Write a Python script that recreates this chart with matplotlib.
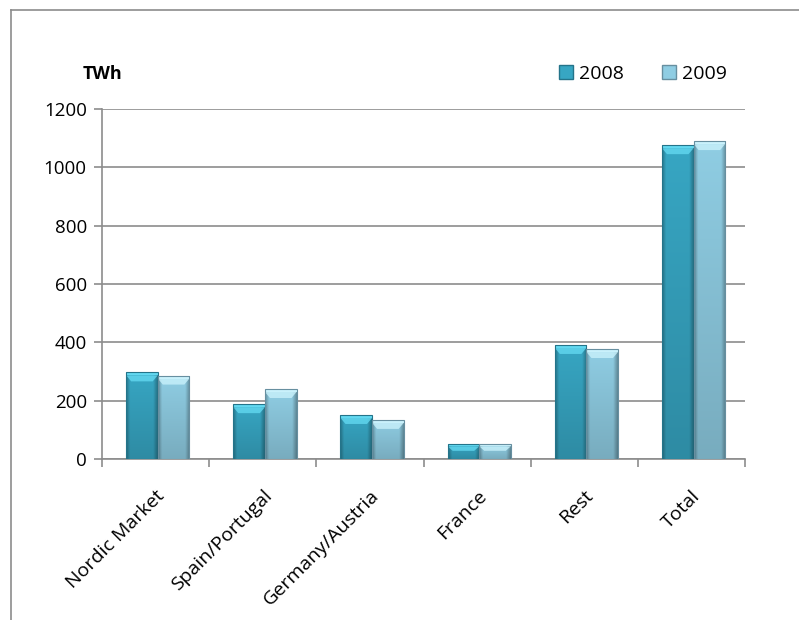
"""
Electricity generation by market, 2008 vs 2009 (TWh), Excel-style bevelled bars.
"""

import numpy as np
import matplotlib.pyplot as plt
import matplotlib.patches as patches
from matplotlib.colors import to_rgb
from matplotlib.lines import Line2D

plt.rcParams["font.family"] = ["Open Sans", "DejaVu Sans"]

CATEGORIES = ["Nordic Market", "Spain/Portugal", "Germany/Austria", "France", "Rest", "Total"]
YEARS = ["2008", "2009"]
VALUES_2008 = [297, 188, 151, 51, 391, 1076]
VALUES_2009 = [286, 240, 134, 51, 377, 1090]
Y_TICKS = [0, 200, 400, 600, 800, 1000, 1200]

# face / bevel colours per series
FACE = {"2008": "#37a6c3", "2009": "#8fcde3"}
BEVEL = {"2008": "#62d8f0", "2009": "#c9f1fb"}
EDGE = {"2008": "#24748a", "2009": "#678fa0"}


def shaded_image(face, nx=40, ny=60):
    """RGB array with darker side edges and a slight darkening towards the bottom."""
    t = np.linspace(0, 1, nx)
    horiz = np.ones_like(t)
    horiz = np.where(t < 0.12, 0.72 + 0.28 * (t / 0.12), horiz)
    horiz = np.where(t > 0.86, 1.0 - 0.30 * ((t - 0.86) / 0.14), horiz)
    vert = np.linspace(1.0, 0.84, ny)[:, None]  # row 0 is the top
    base = np.array(to_rgb(face))
    img = base[None, None, :] * (horiz[None, :] * vert)[:, :, None]
    return np.clip(img, 0, 1)


fig = plt.figure(figsize=(7.99, 6.2), dpi=100)
ax = fig.add_axes([0.1277, 0.2597, 0.8047, 0.5645])

x = np.arange(len(CATEGORIES))
bar_w = 0.295
series = {"2008": VALUES_2008, "2009": VALUES_2009}

# pixel -> data conversion used for the bevel depth
px_per_unit = 0.5645 * 620 / 1200.0

for i, year in enumerate(YEARS):
    offs = (i - 0.5) * bar_w + 0.02
    bars = ax.bar(x + offs, series[year], width=bar_w, color=FACE[year],
                  edgecolor="none", zorder=3)
    img = shaded_image(FACE[year])
    for b in bars:
        bx, bw, bh = b.get_x(), b.get_width(), b.get_height()
        im = ax.imshow(img, extent=(bx, bx + bw, 0, bh), aspect="auto",
                       interpolation="bilinear", zorder=3.1)
        im.set_clip_path(b)
        # bevelled top: light rim plus a trapezoid fading into the face
        depth = min(9 / px_per_unit, bh * 0.45)
        rim = min(3 / px_per_unit, bh * 0.15)
        inset = bw * 0.16
        ax.add_patch(patches.Rectangle((bx, bh - rim), bw, rim,
                                       facecolor=BEVEL[year], edgecolor="none", zorder=3.3))
        ax.add_patch(patches.Polygon(
            [(bx, bh - rim), (bx + bw, bh - rim), (bx + bw - inset, bh - depth),
             (bx + inset, bh - depth)],
            closed=True, facecolor=BEVEL[year], edgecolor="none", alpha=0.8, zorder=3.2))
        ax.add_patch(patches.Rectangle((bx, 0), bw, bh, facecolor="none",
                                       edgecolor=EDGE[year], linewidth=0.8, zorder=3.4))

ax.set_xlim(-0.5, len(CATEGORIES) - 0.5)
ax.set_ylim(0, 1200)
ax.set_yticks(Y_TICKS)
ax.set_yticklabels([str(v) for v in Y_TICKS])
ax.yaxis.grid(True, color="#8c8c8c", linewidth=1.2, zorder=0)
ax.set_axisbelow(True)

ax.set_xticks(x)
ax.set_xticklabels(CATEGORIES, rotation=45, ha="right", va="top",
                   rotation_mode="anchor")
ax.set_xticks(np.arange(len(CATEGORIES) + 1) - 0.5, minor=True)
ax.tick_params(axis="x", which="major", length=0, pad=20, labelsize=14)
ax.tick_params(axis="x", which="minor", length=6, color="#8c8c8c", width=1.2)
ax.tick_params(axis="y", length=6, color="#8c8c8c", width=1.2, labelsize=13.5, pad=5)

for side in ("top", "right"):
    ax.spines[side].set_visible(False)
for side in ("left", "bottom"):
    ax.spines[side].set_color("#8c8c8c")
    ax.spines[side].set_linewidth(1.2)

fig.text(83 / 799, 1 - 74 / 620, "TWh", fontsize=13, fontweight="bold",
         ha="left", va="center")

handles = [patches.Patch(facecolor=FACE[y], edgecolor=EDGE[y], label=y) for y in YEARS]
fig.legend(handles=handles, loc="center", bbox_to_anchor=(643 / 799, 1 - 74 / 620),
           ncol=2, frameon=False, fontsize=14, handlelength=0.7, handleheight=0.7,
           handletextpad=0.3, columnspacing=2.0)

# outer chart-area frame (left and top edges)
fig.add_artist(Line2D([11 / 799, 11 / 799], [0, 1 - 10 / 620], transform=fig.transFigure,
                      color="#8c8c8c", linewidth=1.2))
fig.add_artist(Line2D([11 / 799, 1], [1 - 10 / 620, 1 - 10 / 620], transform=fig.transFigure,
                      color="#8c8c8c", linewidth=1.2))

fig.savefig("out.png", dpi=100)
